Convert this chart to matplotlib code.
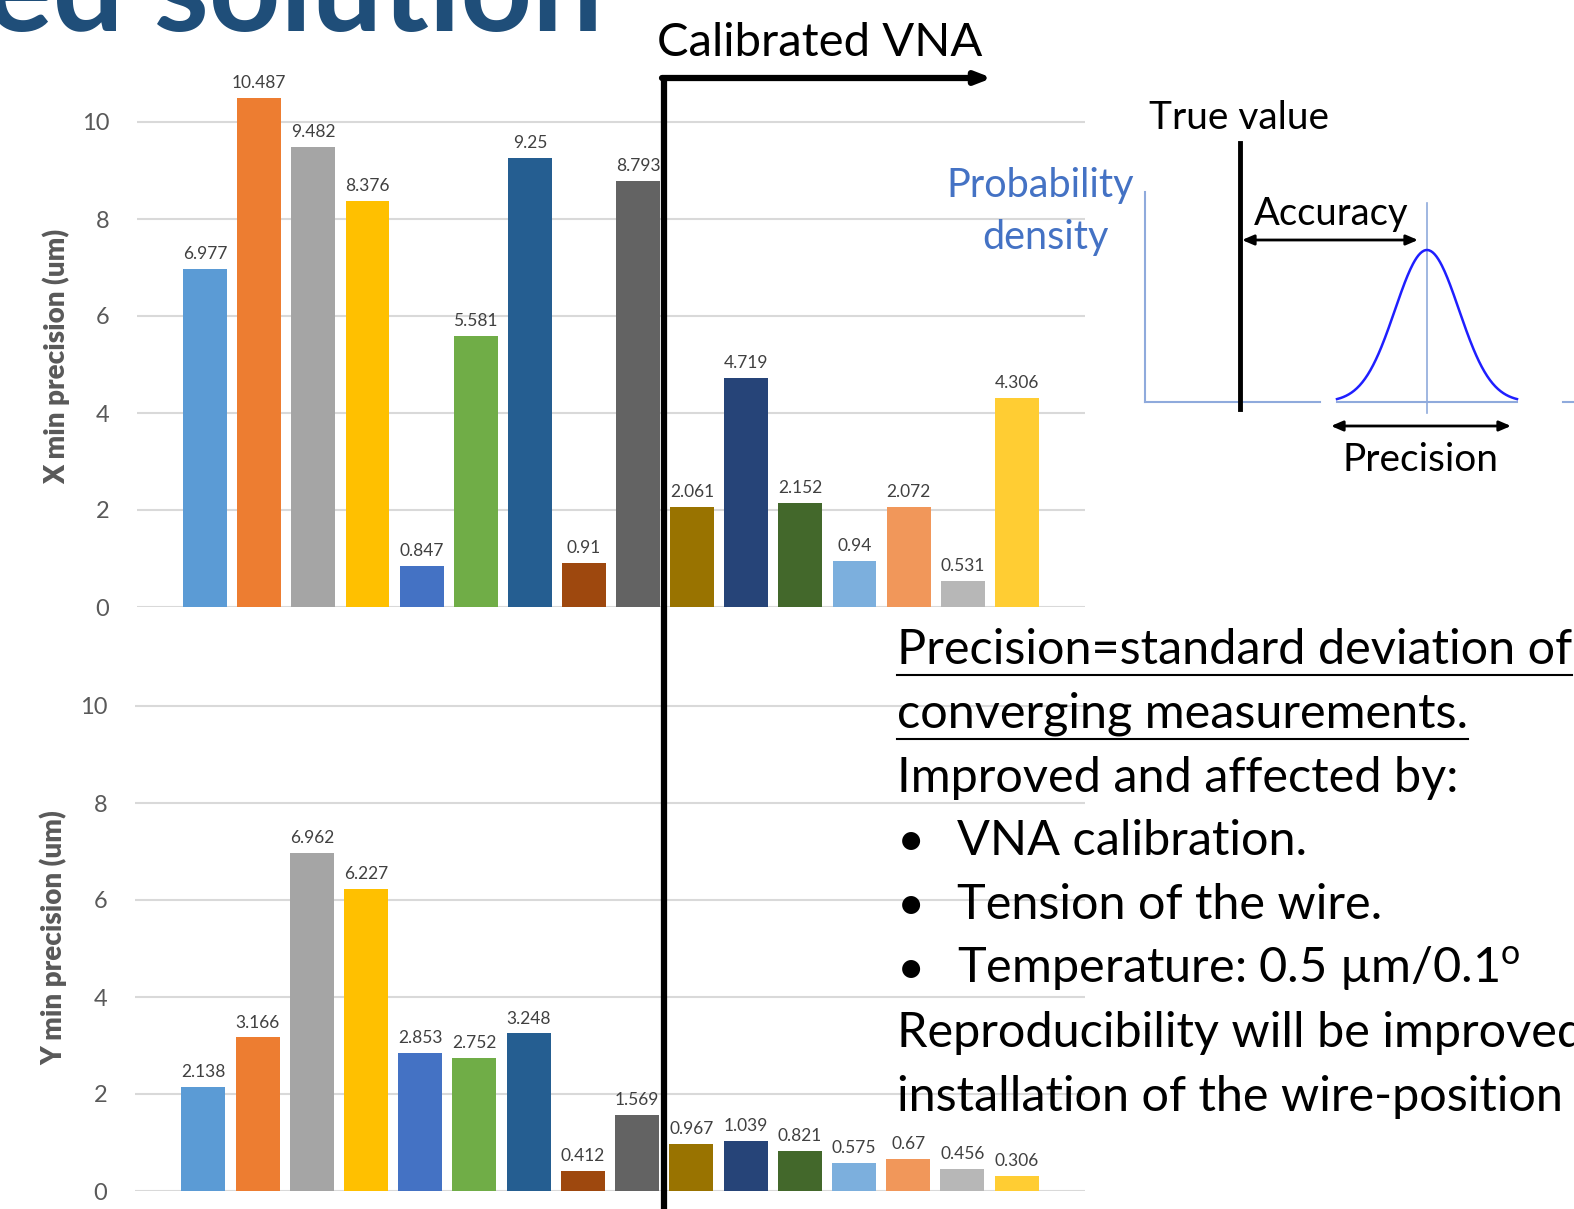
import numpy as np
import matplotlib
matplotlib.use("Agg")
import matplotlib.pyplot as plt

plt.rcParams['font.family'] = ['Lato', 'DejaVu Sans']
plt.rcParams['mathtext.fontset'] = 'custom'
plt.rcParams['mathtext.rm'] = 'Lato'

# precision per run, before (first 9) and after (last 7) VNA calibration
x_precision = [6.977, 10.487, 9.482, 8.376, 0.847, 5.581, 9.25, 0.91, 8.793,
               2.061, 4.719, 2.152, 0.94, 2.072, 0.531, 4.306]
y_precision = [2.138, 3.166, 6.962, 6.227, 2.853, 2.752, 3.248, 0.412, 1.569,
               0.967, 1.039, 0.821, 0.575, 0.67, 0.456, 0.306]
bar_colors = ['#5B9BD5', '#ED7D31', '#A5A5A5', '#FFC000', '#4472C4', '#70AD47',
              '#255E91', '#9E480E', '#636363', '#997300', '#264478', '#43682B',
              '#7CAFDD', '#F1975A', '#B7B7B7', '#FFCD33']
y_ticks = [0, 2, 4, 6, 8, 10]

W, H = 1574, 1209
fig = plt.figure(figsize=(W / 100, H / 100), dpi=100)


def px_axes(left, right, y0, unit, ymax):
    # place an axes from pixel positions: y0 = pixel row of value 0
    top = y0 - unit * ymax
    return fig.add_axes([left / W, 1 - y0 / H, (right - left) / W, (y0 - top) / H])


def bar_panel(ax, values, ylabel, label_y):
    idx = np.arange(len(values))
    bars = ax.bar(idx, values, width=0.81, color=bar_colors, zorder=2)
    for b, v in zip(bars, values):
        ax.annotate(f'{v:g}', (b.get_x() + b.get_width() / 2, v),
                    xytext=(0, 5), textcoords='offset points',
                    ha='center', va='bottom', fontsize=12.5, color='#404040',
                    annotation_clip=False, zorder=3)
    ax.set_xlim(-1.26, 16.26)
    ax.set_yticks(y_ticks)
    ax.grid(axis='y', color='#D9D9D9', linewidth=1.5, zorder=0)
    ax.set_xticks([])
    for s in ax.spines.values():
        s.set_visible(False)
    ax.tick_params(axis='y', length=0, pad=20, labelsize=17, labelcolor='#595959')
    ax.set_ylabel(ylabel, fontsize=20, fontweight='heavy', color='#595959')
    ax.yaxis.set_label_coords(-0.071, label_y)


ax1 = px_axes(137, 1085, 607, 48.5, 11)
ax1.set_ylim(0, 11)
bar_panel(ax1, x_precision, 'X min precision (um)', 0.469)

ax2 = px_axes(135, 1085, 1191, 48.5, 10.5)
ax2.set_ylim(0, 10.5)
bar_panel(ax2, y_precision, 'Y min precision (um)', 0.497)

# overlay in pixel coordinates for annotations and the sketch
ov = fig.add_axes([0, 0, 1, 1], zorder=5)
ov.set_xlim(0, W)
ov.set_ylim(H, 0)
ov.axis('off')
ov.patch.set_alpha(0)

ov.text(-14, 31, 'ed solution', fontsize=90, fontweight='bold', color='#1F4E79',
        ha='left', va='baseline')

# calibration marker
ov.plot([664, 664], [78, H + 5], color='black', lw=4.5, solid_capstyle='butt')
ov.annotate('', xy=(992, 78), xytext=(662, 78),
            arrowprops=dict(arrowstyle='-|>,head_length=0.9,head_width=0.35',
                            color='black', lw=4.5, shrinkA=0, shrinkB=0))
ov.text(820, 43, 'Calibrated VNA', fontsize=34, ha='center', va='center')

# accuracy / precision sketch
blue_axis = '#8FAADC'
ov.plot([1145, 1145], [192, 402], color=blue_axis, lw=1.5)
ov.plot([1145, 1320], [402, 402], color=blue_axis, lw=1.5)
ov.plot([1337, 1517], [402, 402], color=blue_axis, lw=1.5)
ov.plot([1563, W], [402, 402], color=blue_axis, lw=1.5)
ov.plot([1427, 1427], [203, 413], color=blue_axis, lw=1.2)
gx = np.linspace(1337, 1517, 200)
gy = 402 - 152 * np.exp(-0.5 * ((gx - 1427) / 32) ** 2)
ov.plot(gx, gy, color='#1F1FFF', lw=1.8)
ov.plot([1240, 1240], [143, 409], color='black', lw=3.5)
arrow = dict(arrowstyle='<|-|>,head_length=0.7,head_width=0.3', color='black',
             lw=2, shrinkA=0, shrinkB=0)
ov.annotate('', xy=(1418, 240), xytext=(1242, 240), arrowprops=arrow)
ov.annotate('', xy=(1511, 426), xytext=(1331, 426), arrowprops=arrow)
ov.text(1239, 118, 'True value', fontsize=28, ha='center', va='center')
ov.text(1331, 214, 'Accuracy', fontsize=27.5, ha='center', va='center')
ov.text(1421, 460, 'Precision', fontsize=28, ha='center', va='center')
ov.text(1040, 186, 'Probability', fontsize=28.5, ha='center', va='center', color='#4472C4')
ov.text(1045, 237, 'density', fontsize=28.5, ha='center', va='center', color='#4472C4')

# explanation text
lines = [
    (897, 'Precision=standard deviation of', True),
    (897, 'converging measurements.', True),
    (897, 'Improved and affected by:', False),
    (957, 'VNA calibration.', False),
    (957, 'Tension of the wire.', False),
    (957, 'Temperature: 0.5 µm/0.1$^{\\mathrm{o}}$', False),
    (897, 'Reproducibility will be improved with', False),
    (897, 'installation of the wire-position sensor.', False),
]
row_y = 650
for x, s, under in lines:
    t = ov.text(x, row_y, s, fontsize=35, ha='left', va='center')
    if x > 900:
        ov.text(897, row_y, '•', fontsize=35, ha='left', va='center')
    if under:
        fig.canvas.draw()
        bb = t.get_window_extent().transformed(ov.transData.inverted())
        ov.plot([bb.x0, min(bb.x1, W)], [row_y + 25, row_y + 25], color='black', lw=1.5)
    row_y += 63.8

fig.savefig('out.png', dpi=100)
